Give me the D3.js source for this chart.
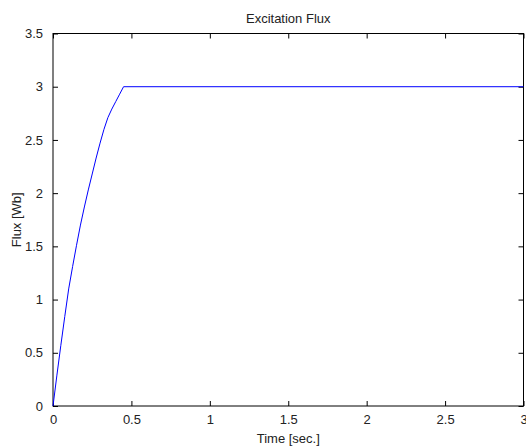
<!DOCTYPE html>
<html><head><meta charset="utf-8">
<script src="https://cdn.jsdelivr.net/npm/d3@7"></script>
<style>body{margin:0;background:#fff}svg{display:block}text{font-family:"Liberation Sans",Arial,sans-serif;fill:#222}</style>
</head><body><svg id="c" width="526" height="447"></svg>
<script>
const timeVals = [0, 0.025, 0.05, 0.075, 0.1, 0.125, 0.15, 0.175, 0.2, 0.225, 0.25, 0.275, 0.3, 0.325, 0.35, 0.375, 0.4, 0.425, 0.45, 3.0];
const fluxVals = [0, 0.29, 0.57, 0.84, 1.10, 1.31, 1.51, 1.70, 1.87, 2.03, 2.18, 2.33, 2.47, 2.60, 2.71, 2.79, 2.86, 2.93, 3.0, 3.0];
const xTicks = [0, 0.5, 1, 1.5, 2, 2.5, 3];
const yTicks = [0, 0.5, 1, 1.5, 2, 2.5, 3, 3.5];
const title = "Excitation Flux";
const xLabel = "Time [sec.]";
const yLabel = "Flux [Wb]";

const svg = d3.select("#c");
const L = 53, R = 523.5, T = 33.5, B = 406;
const x = d3.scaleLinear().domain([0, 3]).range([L, R]);
const y = d3.scaleLinear().domain([0, 3.5]).range([B, T]);
const fs = 13;
const ff = '"Liberation Sans",Arial,sans-serif';

const g = svg.append("g");
const tl = 5;
g.append("g").attr("transform", `translate(0,${B})`).call(d3.axisBottom(x).tickValues(xTicks).tickSizeInner(-tl).tickSizeOuter(0).tickPadding(9).tickFormat(d3.format("")))
  .call(a => { a.select(".domain").remove(); a.selectAll("text").attr("font-size", fs).style("font-family", ff).attr("fill", "#222"); });
g.append("g").attr("transform", `translate(0,${T})`).call(d3.axisTop(x).tickValues(xTicks).tickSizeInner(-tl).tickSizeOuter(0).tickFormat(""))
  .call(a => a.select(".domain").remove());
g.append("g").attr("transform", `translate(${L},0)`).call(d3.axisLeft(y).tickValues(yTicks).tickSizeInner(-tl).tickSizeOuter(0).tickPadding(10).tickFormat(d3.format("")))
  .call(a => { a.select(".domain").remove(); a.selectAll("text").attr("font-size", fs).style("font-family", ff).attr("fill", "#222"); });
g.append("g").attr("transform", `translate(${R},0)`).call(d3.axisRight(y).tickValues(yTicks).tickSizeInner(-tl).tickSizeOuter(0).tickFormat(""))
  .call(a => a.select(".domain").remove());

svg.append("rect").attr("x", L).attr("y", T).attr("width", R - L).attr("height", B - T)
  .attr("fill", "none").attr("stroke", "#000").attr("stroke-width", 1);

const line = d3.line().x((d, i) => x(timeVals[i])).y(d => y(d));
svg.append("path").datum(fluxVals).attr("d", line).attr("fill", "none").attr("stroke", "#0000ff").attr("stroke-width", 1);

svg.append("text").attr("x", (L + R) / 2).attr("y", 23).attr("text-anchor", "middle").attr("font-size", fs).text(title);
svg.append("text").attr("x", (L + R) / 2).attr("y", 443).attr("text-anchor", "middle").attr("font-size", fs).text(xLabel);
svg.append("text").attr("transform", `translate(21,${(T + B) / 2}) rotate(-90)`).attr("text-anchor", "middle").attr("font-size", fs).text(yLabel);
</script></body></html>
